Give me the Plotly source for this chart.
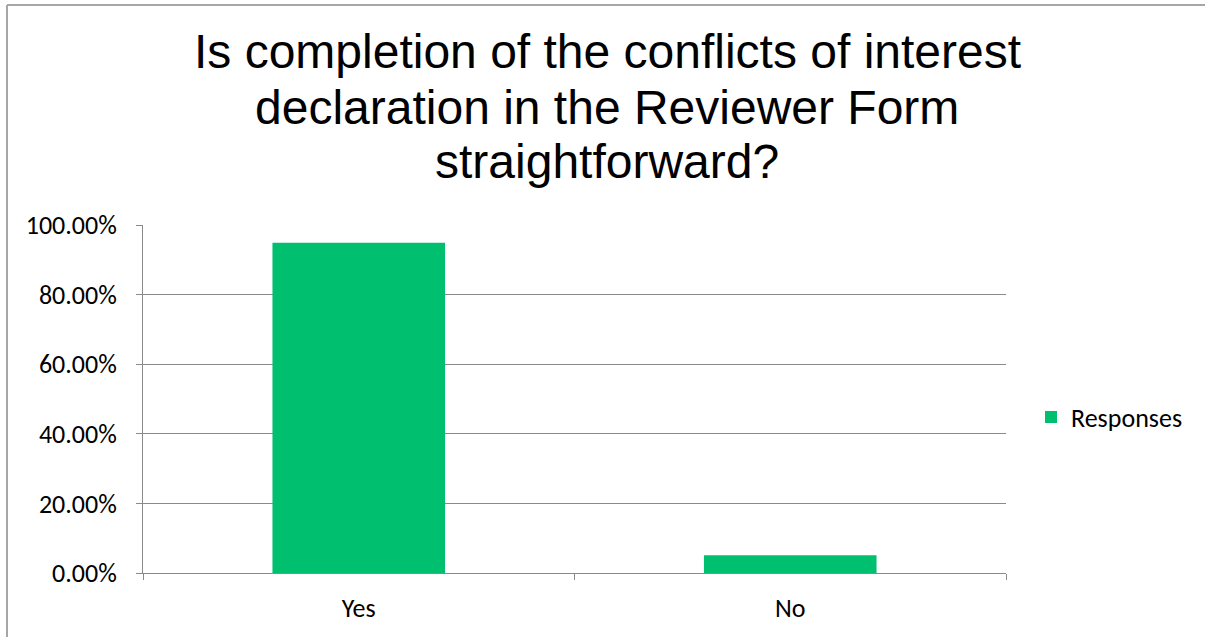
import plotly.graph_objects as go

categories = ["Yes", "No"]
responses = [0.9487, 0.0513]
y_ticks = [0, 0.2, 0.4, 0.6, 0.8, 1.0]
title_lines = [
    "Is completion of the conflicts of interest",
    "declaration in the Reviewer Form",
    "straightforward?",
]

W, H = 1205, 637
L, R, T, B = 143, 199, 225, 64
pw, ph = W - L - R, H - T - B

def px_x(p):
    return (p - L) / pw

def px_y(p):
    return (H - B - p) / ph

grey = "#8a8a8a"
green = "#00BF6F"
frame = "#a6a6a6"
label_font = "Calibri, Carlito, Lato, sans-serif"

fig = go.Figure()
fig.add_trace(go.Bar(
    x=categories, y=responses, name="Responses",
    marker=dict(color=green, line=dict(width=0)),
    width=0.4, showlegend=True,
))

fig.update_layout(
    width=W, height=H,
    margin=dict(l=L, r=R, t=T, b=B),
    paper_bgcolor="white", plot_bgcolor="white",
    font=dict(family=label_font, size=26, color="black"),
    showlegend=True,
    legend=dict(
        x=px_x(1031), y=px_y(417), xanchor="left", yanchor="middle",
        font=dict(size=26), itemsizing="constant", bgcolor="rgba(0,0,0,0)",
        itemwidth=30,
    ),
    bargap=0.6,
)

# three-line title, one annotation per line
for i, line in enumerate(title_lines):
    fig.add_annotation(
        text=line, showarrow=False,
        xref="paper", yref="paper",
        x=px_x(607), y=px_y(52 + 55 * i),
        xanchor="center", yanchor="middle",
        font=dict(family="Liberation Sans, Arial", size=48, color="black"),
    )

fig.update_xaxes(
    type="category",
    showline=True, linecolor=grey, linewidth=1,
    ticks="outside", tickson="boundaries", ticklen=6, tickcolor=grey,
    ticklabelstandoff=12,
    showgrid=False, fixedrange=True,
)
fig.update_yaxes(
    range=[0, 1], tickvals=y_ticks, tickformat=".2%",
    showline=True, linecolor=grey, linewidth=1,
    ticks="outside", ticklen=6, tickcolor=grey,
    ticklabelstandoff=14,
    showgrid=True, gridcolor=grey, gridwidth=1,
    zeroline=False, fixedrange=True,
)

# chart frame: left and top edges
fig.add_shape(
    type="line", xref="paper", yref="paper",
    x0=px_x(7), x1=px_x(7), y0=px_y(5), y1=px_y(H),
    line=dict(color=frame, width=2), layer="below",
)
fig.add_shape(
    type="line", xref="paper", yref="paper",
    x0=px_x(7), x1=px_x(W), y0=px_y(5), y1=px_y(5),
    line=dict(color=frame, width=2), layer="below",
)

fig.write_html("out.html", config={"displayModeBar": False})
